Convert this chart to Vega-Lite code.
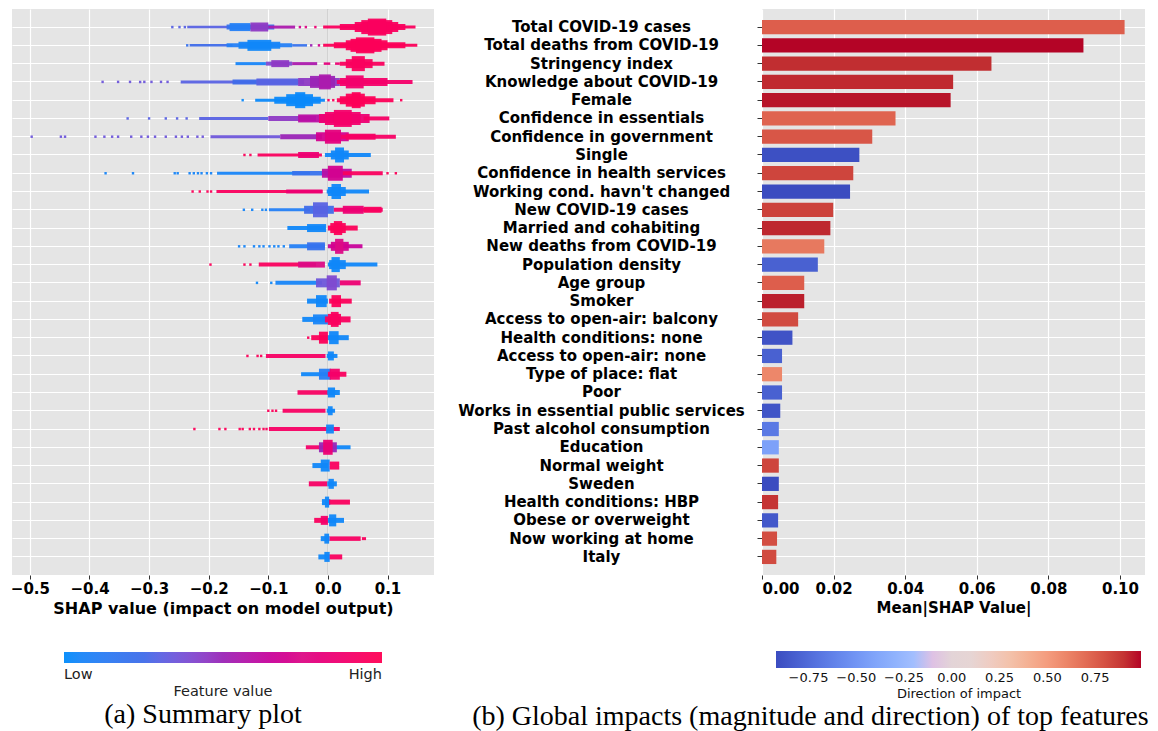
{
  "$schema": "https://vega.github.io/schema/vega-lite/v6.json",
  "padding": {"left": 10, "top": 8, "right": 5, "bottom": 0},
  "spacing": 23,
  "config": {
    "font": "DejaVu Sans",
    "view": {"fill": "#e5e5e5", "stroke": null},
    "axis": {"gridColor": "#ffffff", "gridWidth": 1.2, "domain": false, "labelColor": "#000000", "titleColor": "#000000", "labelFontWeight": "bold", "titleFontWeight": "bold", "tickColor": "#333333"}
  },
  "datasets": {
    "bars": [
      {"feature": "Total COVID-19 cases", "mean_abs_shap": 0.1013, "direction": 0.75},
      {"feature": "Total deaths from COVID-19", "mean_abs_shap": 0.0898, "direction": 0.99},
      {"feature": "Stringency index", "mean_abs_shap": 0.0641, "direction": 0.914},
      {"feature": "Knowledge about COVID-19", "mean_abs_shap": 0.0534, "direction": 0.923},
      {"feature": "Female", "mean_abs_shap": 0.0527, "direction": 0.97},
      {"feature": "Confidence in essentials", "mean_abs_shap": 0.0373, "direction": 0.73},
      {"feature": "Confidence in government", "mean_abs_shap": 0.0308, "direction": 0.78},
      {"feature": "Single", "mean_abs_shap": 0.0272, "direction": -0.9},
      {"feature": "Confidence in health services", "mean_abs_shap": 0.0255, "direction": 0.84},
      {"feature": "Working cond. havn't changed", "mean_abs_shap": 0.0246, "direction": -0.92},
      {"feature": "New COVID-19 cases", "mean_abs_shap": 0.0199, "direction": 0.85},
      {"feature": "Married and cohabiting", "mean_abs_shap": 0.0191, "direction": 0.93},
      {"feature": "New deaths from COVID-19", "mean_abs_shap": 0.0174, "direction": 0.646},
      {"feature": "Population density", "mean_abs_shap": 0.0156, "direction": -0.805},
      {"feature": "Age group", "mean_abs_shap": 0.0118, "direction": 0.75},
      {"feature": "Smoker", "mean_abs_shap": 0.0118, "direction": 0.95},
      {"feature": "Access to open-air: balcony", "mean_abs_shap": 0.0101, "direction": 0.82},
      {"feature": "Health conditions: none", "mean_abs_shap": 0.0085, "direction": -0.88},
      {"feature": "Access to open-air: none", "mean_abs_shap": 0.0056, "direction": -0.805},
      {"feature": "Type of place: flat", "mean_abs_shap": 0.0056, "direction": 0.59},
      {"feature": "Poor", "mean_abs_shap": 0.0056, "direction": -0.805},
      {"feature": "Works in essential public services", "mean_abs_shap": 0.0051, "direction": -0.87},
      {"feature": "Past alcohol consumption", "mean_abs_shap": 0.0047, "direction": -0.67},
      {"feature": "Education", "mean_abs_shap": 0.0047, "direction": -0.43},
      {"feature": "Normal weight", "mean_abs_shap": 0.0047, "direction": 0.84},
      {"feature": "Sweden", "mean_abs_shap": 0.0047, "direction": -0.92},
      {"feature": "Health conditions: HBP", "mean_abs_shap": 0.0045, "direction": 0.895},
      {"feature": "Obese or overweight", "mean_abs_shap": 0.0045, "direction": -0.853},
      {"feature": "Now working at home", "mean_abs_shap": 0.0042, "direction": 0.81},
      {"feature": "Italy", "mean_abs_shap": 0.004, "direction": 0.82}
    ],
    "swarm": [
      {"rank":1,"lo":-0.263,"hi":-0.259,"density":2.5,"value":0.3},
      {"rank":1,"lo":-0.251,"hi":-0.247,"density":2.5,"value":0.3},
      {"rank":1,"lo":-0.242,"hi":-0.238,"density":2.5,"value":0.3},
      {"rank":1,"lo":-0.236,"hi":-0.16,"density":2.5,"value":0.3},
      {"rank":1,"lo":-0.17,"hi":-0.09,"density":5,"value":0.2},
      {"rank":1,"lo":-0.165,"hi":-0.13,"density":8,"value":0.1},
      {"rank":1,"lo":-0.13,"hi":-0.1,"density":9,"value":0.45},
      {"rank":1,"lo":-0.1,"hi":-0.055,"density":3,"value":0.55},
      {"rank":1,"lo":-0.049,"hi":-0.045,"density":2.5,"value":0.7},
      {"rank":1,"lo":-0.039,"hi":-0.035,"density":2.5,"value":0.75},
      {"rank":1,"lo":-0.023,"hi":-0.019,"density":2.5,"value":0.85},
      {"rank":1,"lo":-0.008,"hi":0.147,"density":3,"value":0.95},
      {"rank":1,"lo":0.02,"hi":0.13,"density":6,"value":0.95},
      {"rank":1,"lo":0.045,"hi":0.118,"density":10,"value":0.95},
      {"rank":1,"lo":0.056,"hi":0.108,"density":14,"value":0.95},
      {"rank":1,"lo":0.067,"hi":0.098,"density":17,"value":0.95},

      {"rank":2,"lo":-0.238,"hi":-0.234,"density":2.5,"value":0.2},
      {"rank":2,"lo":-0.232,"hi":-0.16,"density":2.5,"value":0.25},
      {"rank":2,"lo":-0.17,"hi":-0.06,"density":4,"value":0.1},
      {"rank":2,"lo":-0.15,"hi":-0.08,"density":7,"value":0.05},
      {"rank":2,"lo":-0.135,"hi":-0.095,"density":11,"value":0.03},
      {"rank":2,"lo":-0.06,"hi":-0.035,"density":2.5,"value":0.2},
      {"rank":2,"lo":-0.03,"hi":-0.026,"density":2.5,"value":0.5},
      {"rank":2,"lo":-0.017,"hi":-0.013,"density":2.5,"value":0.7},
      {"rank":2,"lo":-0.008,"hi":0.15,"density":3,"value":0.97},
      {"rank":2,"lo":0.01,"hi":0.13,"density":6,"value":0.97},
      {"rank":2,"lo":0.03,"hi":0.1,"density":10,"value":0.97},
      {"rank":2,"lo":0.038,"hi":0.09,"density":13,"value":0.97},
      {"rank":2,"lo":0.047,"hi":0.078,"density":16,"value":0.97},

      {"rank":3,"lo":-0.155,"hi":-0.104,"density":3,"value":0.05},
      {"rank":3,"lo":-0.104,"hi":-0.06,"density":4,"value":0.4},
      {"rank":3,"lo":-0.095,"hi":-0.065,"density":7,"value":0.45},
      {"rank":3,"lo":-0.06,"hi":-0.018,"density":3,"value":0.55},
      {"rank":3,"lo":-0.007,"hi":0.004,"density":2.5,"value":0.8},
      {"rank":3,"lo":0.012,"hi":0.02,"density":2.5,"value":0.85},
      {"rank":3,"lo":0.02,"hi":0.095,"density":4,"value":0.95},
      {"rank":3,"lo":0.03,"hi":0.075,"density":9,"value":0.95},
      {"rank":3,"lo":0.04,"hi":0.062,"density":15,"value":0.95},

      {"rank":4,"lo":-0.38,"hi":-0.376,"density":2.5,"value":0.35},
      {"rank":4,"lo":-0.354,"hi":-0.35,"density":2.5,"value":0.35},
      {"rank":4,"lo":-0.334,"hi":-0.33,"density":2.5,"value":0.35},
      {"rank":4,"lo":-0.317,"hi":-0.313,"density":2.5,"value":0.35},
      {"rank":4,"lo":-0.31,"hi":-0.306,"density":2.5,"value":0.35},
      {"rank":4,"lo":-0.298,"hi":-0.294,"density":2.5,"value":0.35},
      {"rank":4,"lo":-0.282,"hi":-0.278,"density":2.5,"value":0.35},
      {"rank":4,"lo":-0.271,"hi":-0.267,"density":2.5,"value":0.35},
      {"rank":4,"lo":-0.247,"hi":-0.12,"density":3,"value":0.3},
      {"rank":4,"lo":-0.16,"hi":-0.04,"density":5,"value":0.25},
      {"rank":4,"lo":-0.12,"hi":-0.05,"density":7,"value":0.3},
      {"rank":4,"lo":-0.05,"hi":0.02,"density":8,"value":0.45},
      {"rank":4,"lo":-0.03,"hi":0.012,"density":12,"value":0.5},
      {"rank":4,"lo":-0.015,"hi":0.005,"density":15,"value":0.55},
      {"rank":4,"lo":0.015,"hi":0.142,"density":4,"value":0.9},
      {"rank":4,"lo":0.02,"hi":0.1,"density":8,"value":0.9},
      {"rank":4,"lo":0.03,"hi":0.06,"density":13,"value":0.88},

      {"rank":5,"lo":-0.145,"hi":-0.141,"density":2.5,"value":0.02},
      {"rank":5,"lo":-0.122,"hi":-0.005,"density":3,"value":0.02},
      {"rank":5,"lo":-0.09,"hi":-0.012,"density":7,"value":0.02},
      {"rank":5,"lo":-0.07,"hi":-0.025,"density":12,"value":0.02},
      {"rank":5,"lo":-0.055,"hi":-0.038,"density":16,"value":0.02},
      {"rank":5,"lo":-0.001,"hi":0.003,"density":2.5,"value":0.97},
      {"rank":5,"lo":0.007,"hi":0.011,"density":2.5,"value":0.97},
      {"rank":5,"lo":0.015,"hi":0.11,"density":4,"value":0.98},
      {"rank":5,"lo":0.02,"hi":0.08,"density":8,"value":0.98},
      {"rank":5,"lo":0.03,"hi":0.062,"density":13,"value":0.98},
      {"rank":5,"lo":0.04,"hi":0.055,"density":16,"value":0.98},
      {"rank":5,"lo":0.121,"hi":0.125,"density":2.5,"value":0.98},

      {"rank":6,"lo":-0.338,"hi":-0.334,"density":2.5,"value":0.3},
      {"rank":6,"lo":-0.302,"hi":-0.298,"density":2.5,"value":0.3},
      {"rank":6,"lo":-0.274,"hi":-0.27,"density":2.5,"value":0.3},
      {"rank":6,"lo":-0.255,"hi":-0.251,"density":2.5,"value":0.3},
      {"rank":6,"lo":-0.239,"hi":-0.235,"density":2.5,"value":0.3},
      {"rank":6,"lo":-0.216,"hi":-0.1,"density":3,"value":0.3},
      {"rank":6,"lo":-0.1,"hi":-0.02,"density":5,"value":0.45},
      {"rank":6,"lo":-0.05,"hi":-0.005,"density":8,"value":0.6},
      {"rank":6,"lo":-0.015,"hi":0.07,"density":9,"value":0.85},
      {"rank":6,"lo":-0.005,"hi":0.055,"density":13,"value":0.88},
      {"rank":6,"lo":0.01,"hi":0.04,"density":17,"value":0.9},
      {"rank":6,"lo":0.06,"hi":0.103,"density":4,"value":0.92},

      {"rank":7,"lo":-0.499,"hi":-0.495,"density":2.5,"value":0.35},
      {"rank":7,"lo":-0.45,"hi":-0.446,"density":2.5,"value":0.35},
      {"rank":7,"lo":-0.443,"hi":-0.439,"density":2.5,"value":0.35},
      {"rank":7,"lo":-0.392,"hi":-0.388,"density":2.5,"value":0.35},
      {"rank":7,"lo":-0.377,"hi":-0.373,"density":2.5,"value":0.35},
      {"rank":7,"lo":-0.364,"hi":-0.36,"density":2.5,"value":0.35},
      {"rank":7,"lo":-0.354,"hi":-0.35,"density":2.5,"value":0.35},
      {"rank":7,"lo":-0.332,"hi":-0.328,"density":2.5,"value":0.35},
      {"rank":7,"lo":-0.315,"hi":-0.311,"density":2.5,"value":0.35},
      {"rank":7,"lo":-0.304,"hi":-0.3,"density":2.5,"value":0.35},
      {"rank":7,"lo":-0.292,"hi":-0.288,"density":2.5,"value":0.35},
      {"rank":7,"lo":-0.274,"hi":-0.27,"density":2.5,"value":0.35},
      {"rank":7,"lo":-0.257,"hi":-0.253,"density":2.5,"value":0.35},
      {"rank":7,"lo":-0.247,"hi":-0.243,"density":2.5,"value":0.35},
      {"rank":7,"lo":-0.237,"hi":-0.233,"density":2.5,"value":0.35},
      {"rank":7,"lo":-0.221,"hi":-0.217,"density":2.5,"value":0.35},
      {"rank":7,"lo":-0.212,"hi":-0.208,"density":2.5,"value":0.35},
      {"rank":7,"lo":-0.197,"hi":-0.08,"density":3,"value":0.35},
      {"rank":7,"lo":-0.08,"hi":-0.01,"density":5,"value":0.5},
      {"rank":7,"lo":-0.02,"hi":0.035,"density":9,"value":0.7},
      {"rank":7,"lo":-0.005,"hi":0.022,"density":14,"value":0.8},
      {"rank":7,"lo":0.022,"hi":0.114,"density":4,"value":0.92},
      {"rank":7,"lo":0.03,"hi":0.08,"density":6,"value":0.92},

      {"rank":8,"lo":-0.142,"hi":-0.138,"density":2.5,"value":0.97},
      {"rank":8,"lo":-0.132,"hi":-0.128,"density":2.5,"value":0.97},
      {"rank":8,"lo":-0.118,"hi":-0.01,"density":3,"value":0.95},
      {"rank":8,"lo":-0.05,"hi":-0.015,"density":6,"value":0.85},
      {"rank":8,"lo":-0.005,"hi":0.072,"density":4,"value":0.03},
      {"rank":8,"lo":0.005,"hi":0.035,"density":9,"value":0.03},
      {"rank":8,"lo":0.012,"hi":0.027,"density":15,"value":0.03},

      {"rank":9,"lo":-0.375,"hi":-0.371,"density":2.5,"value":0.05},
      {"rank":9,"lo":-0.329,"hi":-0.325,"density":2.5,"value":0.05},
      {"rank":9,"lo":-0.259,"hi":-0.255,"density":2.5,"value":0.05},
      {"rank":9,"lo":-0.254,"hi":-0.25,"density":2.5,"value":0.05},
      {"rank":9,"lo":-0.234,"hi":-0.23,"density":2.5,"value":0.05},
      {"rank":9,"lo":-0.227,"hi":-0.223,"density":2.5,"value":0.05},
      {"rank":9,"lo":-0.22,"hi":-0.216,"density":2.5,"value":0.05},
      {"rank":9,"lo":-0.214,"hi":-0.21,"density":2.5,"value":0.05},
      {"rank":9,"lo":-0.205,"hi":-0.201,"density":2.5,"value":0.05},
      {"rank":9,"lo":-0.198,"hi":-0.194,"density":2.5,"value":0.05},
      {"rank":9,"lo":-0.186,"hi":-0.03,"density":3,"value":0.05},
      {"rank":9,"lo":-0.06,"hi":0.0,"density":4.5,"value":0.2},
      {"rank":9,"lo":-0.01,"hi":0.04,"density":9,"value":0.6},
      {"rank":9,"lo":0.0,"hi":0.025,"density":15,"value":0.7},
      {"rank":9,"lo":0.025,"hi":0.092,"density":4,"value":0.95},
      {"rank":9,"lo":0.098,"hi":0.102,"density":2.5,"value":0.97},
      {"rank":9,"lo":0.112,"hi":0.116,"density":2.5,"value":0.97},

      {"rank":10,"lo":-0.229,"hi":-0.225,"density":2.5,"value":0.97},
      {"rank":10,"lo":-0.217,"hi":-0.213,"density":2.5,"value":0.97},
      {"rank":10,"lo":-0.204,"hi":-0.2,"density":2.5,"value":0.97},
      {"rank":10,"lo":-0.198,"hi":-0.194,"density":2.5,"value":0.97},
      {"rank":10,"lo":-0.187,"hi":-0.009,"density":3,"value":0.95},
      {"rank":10,"lo":-0.07,"hi":-0.009,"density":4,"value":0.85},
      {"rank":10,"lo":-0.002,"hi":0.069,"density":4,"value":0.03},
      {"rank":10,"lo":0.0,"hi":0.03,"density":9,"value":0.03},
      {"rank":10,"lo":0.006,"hi":0.022,"density":15,"value":0.03},

      {"rank":11,"lo":-0.143,"hi":-0.139,"density":2.5,"value":0.05},
      {"rank":11,"lo":-0.129,"hi":-0.125,"density":2.5,"value":0.05},
      {"rank":11,"lo":-0.112,"hi":-0.108,"density":2.5,"value":0.05},
      {"rank":11,"lo":-0.106,"hi":-0.102,"density":2.5,"value":0.05},
      {"rank":11,"lo":-0.099,"hi":-0.03,"density":3,"value":0.1},
      {"rank":11,"lo":-0.04,"hi":0.01,"density":8,"value":0.25},
      {"rank":11,"lo":-0.025,"hi":0.0,"density":15,"value":0.3},
      {"rank":11,"lo":0.01,"hi":0.092,"density":4,"value":0.9},
      {"rank":11,"lo":0.025,"hi":0.06,"density":8,"value":0.85},
      {"rank":11,"lo":0.06,"hi":0.09,"density":6,"value":0.95},

      {"rank":12,"lo":-0.068,"hi":-0.005,"density":4,"value":0.03},
      {"rank":12,"lo":-0.035,"hi":-0.003,"density":8,"value":0.03},
      {"rank":12,"lo":0.0,"hi":0.05,"density":5,"value":0.97},
      {"rank":12,"lo":0.004,"hi":0.03,"density":10,"value":0.97},
      {"rank":12,"lo":0.01,"hi":0.024,"density":14,"value":0.97},

      {"rank":13,"lo":-0.151,"hi":-0.147,"density":2.5,"value":0.05},
      {"rank":13,"lo":-0.142,"hi":-0.138,"density":2.5,"value":0.05},
      {"rank":13,"lo":-0.126,"hi":-0.122,"density":2.5,"value":0.05},
      {"rank":13,"lo":-0.117,"hi":-0.113,"density":2.5,"value":0.05},
      {"rank":13,"lo":-0.11,"hi":-0.106,"density":2.5,"value":0.05},
      {"rank":13,"lo":-0.1,"hi":-0.096,"density":2.5,"value":0.05},
      {"rank":13,"lo":-0.092,"hi":-0.088,"density":2.5,"value":0.05},
      {"rank":13,"lo":-0.085,"hi":-0.081,"density":2.5,"value":0.05},
      {"rank":13,"lo":-0.076,"hi":-0.072,"density":2.5,"value":0.05},
      {"rank":13,"lo":-0.065,"hi":-0.005,"density":4,"value":0.1},
      {"rank":13,"lo":-0.035,"hi":-0.005,"density":8,"value":0.2},
      {"rank":13,"lo":0.0,"hi":0.058,"density":4,"value":0.65},
      {"rank":13,"lo":0.005,"hi":0.035,"density":9,"value":0.7},
      {"rank":13,"lo":0.012,"hi":0.026,"density":15,"value":0.75},

      {"rank":14,"lo":-0.199,"hi":-0.195,"density":2.5,"value":0.97},
      {"rank":14,"lo":-0.142,"hi":-0.138,"density":2.5,"value":0.97},
      {"rank":14,"lo":-0.132,"hi":-0.128,"density":2.5,"value":0.97},
      {"rank":14,"lo":-0.116,"hi":-0.02,"density":4,"value":0.95},
      {"rank":14,"lo":-0.05,"hi":-0.005,"density":6,"value":0.75},
      {"rank":14,"lo":0.0,"hi":0.083,"density":4,"value":0.03},
      {"rank":14,"lo":0.002,"hi":0.03,"density":9,"value":0.03},
      {"rank":14,"lo":0.006,"hi":0.02,"density":15,"value":0.03},

      {"rank":15,"lo":-0.121,"hi":-0.117,"density":2.5,"value":0.03},
      {"rank":15,"lo":-0.097,"hi":-0.093,"density":2.5,"value":0.03},
      {"rank":15,"lo":-0.088,"hi":-0.01,"density":4,"value":0.05},
      {"rank":15,"lo":-0.02,"hi":0.02,"density":9,"value":0.35},
      {"rank":15,"lo":-0.002,"hi":0.015,"density":15,"value":0.4},
      {"rank":15,"lo":0.02,"hi":0.055,"density":5,"value":0.85},

      {"rank":16,"lo":-0.035,"hi":0.0,"density":5,"value":0.03},
      {"rank":16,"lo":-0.02,"hi":-0.002,"density":12,"value":0.03},
      {"rank":16,"lo":0.002,"hi":0.04,"density":5,"value":0.97},
      {"rank":16,"lo":0.006,"hi":0.022,"density":12,"value":0.97},

      {"rank":17,"lo":-0.043,"hi":0.0,"density":5,"value":0.03},
      {"rank":17,"lo":-0.025,"hi":0.0,"density":10,"value":0.05},
      {"rank":17,"lo":-0.005,"hi":0.038,"density":6,"value":0.95},
      {"rank":17,"lo":0.0,"hi":0.022,"density":11,"value":0.95},
      {"rank":17,"lo":0.005,"hi":0.018,"density":15,"value":0.95},

      {"rank":18,"lo":-0.035,"hi":-0.031,"density":2.5,"value":0.97},
      {"rank":18,"lo":-0.028,"hi":0.0,"density":5,"value":0.97},
      {"rank":18,"lo":-0.015,"hi":0.0,"density":12,"value":0.97},
      {"rank":18,"lo":0.0,"hi":0.035,"density":5,"value":0.03},
      {"rank":18,"lo":0.002,"hi":0.018,"density":13,"value":0.03},

      {"rank":19,"lo":-0.137,"hi":-0.133,"density":2.5,"value":0.97},
      {"rank":19,"lo":-0.12,"hi":-0.116,"density":2.5,"value":0.97},
      {"rank":19,"lo":-0.114,"hi":-0.11,"density":2.5,"value":0.97},
      {"rank":19,"lo":-0.104,"hi":-0.004,"density":4,"value":0.92},
      {"rank":19,"lo":-0.002,"hi":0.016,"density":4,"value":0.03},
      {"rank":19,"lo":0.0,"hi":0.01,"density":9,"value":0.03},

      {"rank":20,"lo":-0.045,"hi":0.0,"density":4,"value":0.03},
      {"rank":20,"lo":-0.015,"hi":0.005,"density":11,"value":0.1},
      {"rank":20,"lo":0.0,"hi":0.031,"density":5,"value":0.95},
      {"rank":20,"lo":0.003,"hi":0.02,"density":11,"value":0.9},

      {"rank":21,"lo":-0.051,"hi":0.0,"density":4.5,"value":0.93},
      {"rank":21,"lo":-0.001,"hi":0.02,"density":5,"value":0.03},
      {"rank":21,"lo":0.0,"hi":0.012,"density":10,"value":0.03},

      {"rank":22,"lo":-0.102,"hi":-0.098,"density":2.5,"value":0.97},
      {"rank":22,"lo":-0.095,"hi":-0.091,"density":2.5,"value":0.97},
      {"rank":22,"lo":-0.089,"hi":-0.085,"density":2.5,"value":0.97},
      {"rank":22,"lo":-0.076,"hi":-0.004,"density":4,"value":0.93},
      {"rank":22,"lo":-0.002,"hi":0.012,"density":4,"value":0.03},
      {"rank":22,"lo":0.0,"hi":0.008,"density":9,"value":0.03},

      {"rank":23,"lo":-0.226,"hi":-0.222,"density":2.5,"value":0.97},
      {"rank":23,"lo":-0.184,"hi":-0.18,"density":2.5,"value":0.97},
      {"rank":23,"lo":-0.174,"hi":-0.17,"density":2.5,"value":0.97},
      {"rank":23,"lo":-0.15,"hi":-0.146,"density":2.5,"value":0.97},
      {"rank":23,"lo":-0.145,"hi":-0.141,"density":2.5,"value":0.97},
      {"rank":23,"lo":-0.133,"hi":-0.129,"density":2.5,"value":0.97},
      {"rank":23,"lo":-0.126,"hi":-0.122,"density":2.5,"value":0.97},
      {"rank":23,"lo":-0.117,"hi":-0.113,"density":2.5,"value":0.97},
      {"rank":23,"lo":-0.11,"hi":-0.106,"density":2.5,"value":0.97},
      {"rank":23,"lo":-0.105,"hi":-0.101,"density":2.5,"value":0.97},
      {"rank":23,"lo":-0.099,"hi":0.02,"density":4,"value":0.92},
      {"rank":23,"lo":-0.003,"hi":0.01,"density":9,"value":0.03},

      {"rank":24,"lo":-0.037,"hi":-0.005,"density":4,"value":0.9},
      {"rank":24,"lo":0.0,"hi":0.038,"density":4,"value":0.03},
      {"rank":24,"lo":-0.015,"hi":0.015,"density":10,"value":0.5},
      {"rank":24,"lo":-0.008,"hi":0.008,"density":15,"value":0.85},

      {"rank":25,"lo":-0.026,"hi":0.0,"density":5,"value":0.03},
      {"rank":25,"lo":-0.012,"hi":0.003,"density":12,"value":0.03},
      {"rank":25,"lo":0.003,"hi":0.019,"density":8,"value":0.95},

      {"rank":26,"lo":-0.032,"hi":-0.001,"density":5,"value":0.92},
      {"rank":26,"lo":-0.001,"hi":0.015,"density":5,"value":0.03},
      {"rank":26,"lo":0.001,"hi":0.01,"density":10,"value":0.03},

      {"rank":27,"lo":-0.01,"hi":0.004,"density":6,"value":0.03},
      {"rank":27,"lo":-0.005,"hi":0.002,"density":11,"value":0.03},
      {"rank":27,"lo":0.002,"hi":0.037,"density":5,"value":0.95},

      {"rank":28,"lo":-0.023,"hi":0.0,"density":5,"value":0.95},
      {"rank":28,"lo":-0.012,"hi":0.0,"density":9,"value":0.9},
      {"rank":28,"lo":0.0,"hi":0.027,"density":5,"value":0.03},
      {"rank":28,"lo":0.002,"hi":0.014,"density":12,"value":0.03},

      {"rank":29,"lo":-0.012,"hi":0.003,"density":5,"value":0.03},
      {"rank":29,"lo":-0.006,"hi":0.002,"density":10,"value":0.03},
      {"rank":29,"lo":0.003,"hi":0.055,"density":4.5,"value":0.93},
      {"rank":29,"lo":0.057,"hi":0.064,"density":3,"value":0.95},

      {"rank":30,"lo":-0.016,"hi":0.003,"density":5,"value":0.03},
      {"rank":30,"lo":-0.006,"hi":0.003,"density":10,"value":0.03},
      {"rank":30,"lo":0.003,"hi":0.024,"density":5,"value":0.95}
    ]
  },
  "hconcat": [
    {
      "width": 422,
      "height": 566,
      "title": {"text": "(a) Summary plot", "orient": "bottom", "font": "Liberation Serif", "fontSize": 28, "fontWeight": "normal", "color": "#000000", "anchor": "middle", "dx": -20, "offset": 2},
      "layer": [
        {
          "data": {"values": [{}]},
          "mark": {"type": "rule", "color": "#c4c4c4", "strokeWidth": 1},
          "encoding": {"x": {"datum": 0, "type": "quantitative"}}
        },
        {
          "data": {"name": "swarm"},
          "mark": {"type": "bar", "opacity": 0.95},
          "encoding": {
            "x": {"field": "lo", "type": "quantitative", "scale": {"domain": [-0.53, 0.178], "nice": false, "zero": false},
                  "axis": {"values": [-0.5, -0.4, -0.3, -0.2, -0.1, 0, 0.1], "format": ".1f", "title": "SHAP value (impact on model output)", "labelFontSize": 15, "titleFontSize": 16, "tickSize": 4, "labelPadding": 2, "titlePadding": 4, "grid": true}},
            "x2": {"field": "hi"},
            "y": {"field": "rank", "type": "ordinal", "scale": {"paddingInner": 0.22, "paddingOuter": 0.6},
                  "axis": {"labels": false, "ticks": false, "title": null, "grid": true, "bandPosition": 0.5}},
            "size": {"field": "density", "type": "quantitative", "scale": {"domain": [0, 17], "range": [0, 17]}, "legend": null},
            "color": {"field": "value", "type": "quantitative",
                      "scale": {"domain": [0, 0.25, 0.5, 0.75, 1], "range": ["#008bfb", "#3f6ce9", "#9a24b6", "#dc0a85", "#ff0052"]},
                      "legend": {"orient": "none", "legendX": 52, "legendY": 643, "direction": "horizontal", "gradientLength": 318, "gradientThickness": 11, "gradientStrokeWidth": 0, "values": [0, 1], "labelExpr": "datum.value == 0 ? 'Low' : 'High'", "labelAlign": "center", "labelFontSize": 14.5, "labelColor": "#222222", "labelOffset": 5, "title": "Feature value", "titleOrient": "bottom", "titleAnchor": "middle", "titleFontWeight": "normal", "titleFontSize": 14.5, "titleColor": "#222222", "titlePadding": 3, "padding": 0}}
          }
        }
      ]
    },
    {
      "width": 383,
      "height": 566,
      "title": {"text": "(b) Global impacts (magnitude and direction) of top features", "orient": "bottom", "font": "Liberation Serif", "fontSize": 28, "fontWeight": "normal", "color": "#000000", "anchor": "middle", "frame": "bounds", "dx": 9, "offset": 2},
      "data": {"name": "bars"},
      "mark": {"type": "bar"},
      "encoding": {
        "x": {"field": "mean_abs_shap", "type": "quantitative", "scale": {"domain": [0, 0.107], "nice": false},
              "axis": {"values": [0, 0.02, 0.04, 0.06, 0.08, 0.1], "format": ".2f", "title": "Mean|SHAP Value|", "labelFontSize": 15, "titleFontSize": 15, "tickSize": 4, "labelPadding": 2, "titlePadding": 4, "grid": true}},
        "y": {"field": "feature", "type": "nominal", "sort": null, "scale": {"paddingInner": 0.22, "paddingOuter": 0.6},
              "axis": {"title": null, "labelFontSize": 15, "labelAlign": "center", "labelPadding": 156, "labelLimit": 400, "tickSize": 5, "grid": true, "bandPosition": 0.5}},
        "color": {"field": "direction", "type": "quantitative",
                  "scale": {"domain": [-0.92, -0.68125, -0.4425, -0.20375, 0.035, 0.27375, 0.5125, 0.75125, 0.99], "range": ["#3b4cc0", "#5977e3", "#7b9ff9", "#9ebeff", "#dddcdc", "#f3c7b1", "#f49a7b", "#dd5e4c", "#b40426"]},
                  "legend": {"orient": "none", "legendX": 14, "legendY": 642, "direction": "horizontal", "gradientLength": 365, "gradientThickness": 17, "gradientStrokeWidth": 0, "values": [-0.75, -0.5, -0.25, 0, 0.25, 0.5, 0.75], "format": ".2f", "labelFontSize": 13, "labelColor": "#111111", "labelOverlap": false, "labelOffset": 4, "title": "Direction of impact", "titleOrient": "bottom", "titleAnchor": "middle", "titleFontWeight": "normal", "titleFontSize": 13, "titleColor": "#111111", "titlePadding": 3, "padding": 0}}
      }
    }
  ],
  "resolve": {"scale": {"color": "independent", "size": "independent", "x": "independent", "y": "independent"}, "legend": {"color": "independent"}}
}
